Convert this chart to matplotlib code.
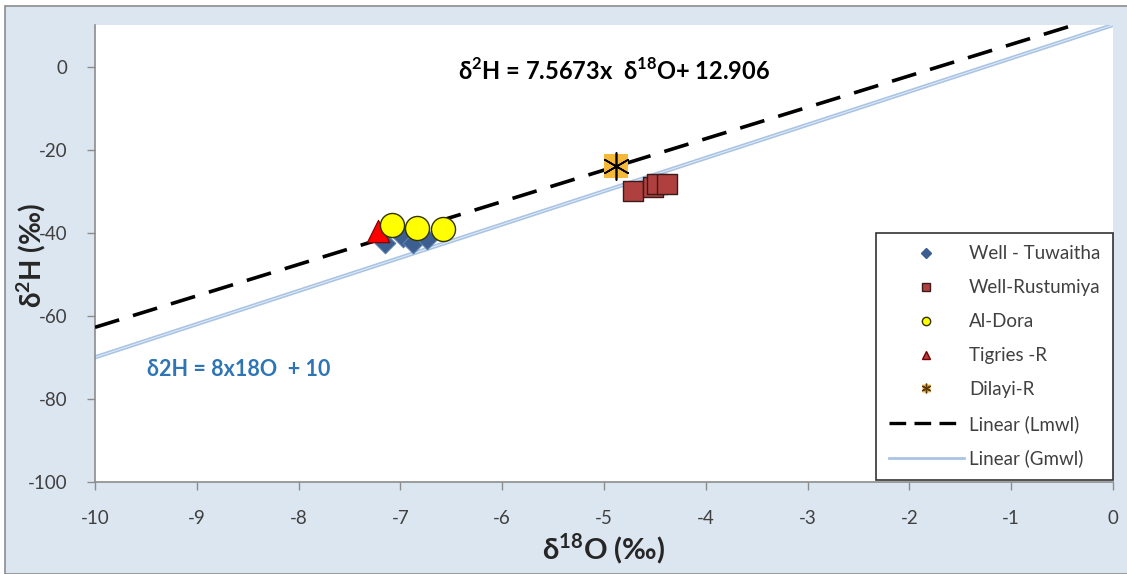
import matplotlib
matplotlib.use("Agg")
import matplotlib.pyplot as plt
import numpy as np
from matplotlib.lines import Line2D
from matplotlib.patches import Rectangle
from matplotlib.legend_handler import HandlerTuple

plt.rcParams['font.family'] = ['Lato', 'DejaVu Sans']
plt.rcParams['axes.unicode_minus'] = False
plt.rcParams['mathtext.fontset'] = 'custom'
plt.rcParams['mathtext.rm'] = 'Lato'
plt.rcParams['mathtext.bf'] = 'Lato:bold'

# Data
tuw_x = [-7.15, -6.97, -6.88, -6.74]
tuw_y = [-42.5, -41.0, -42.5, -41.5]
rus_x = [-4.72, -4.52, -4.48, -4.38]
rus_y = [-30.0, -29.0, -28.3, -28.2]
dora_x = [-7.08, -6.84, -6.58]
dora_y = [-38.2, -38.8, -39.0]
tig_x = [-7.22]
tig_y = [-39.5]
dil_x = [-4.88]
dil_y = [-24.0]
lmwl_slope, lmwl_int = 7.5673, 12.906
gmwl_slope, gmwl_int = 8.0, 10.0
xticks = [-10, -9, -8, -7, -6, -5, -4, -3, -2, -1, 0]
yticks = [-100, -80, -60, -40, -20, 0]

fig = plt.figure(figsize=(11.27, 5.74), dpi=100)
fig.patch.set_facecolor('white')
fig.patches.append(Rectangle((5/1127, 0), 1.0, 1 - 6/574, transform=fig.transFigure,
                             facecolor='#dce6f1', edgecolor='#8c8c8c', lw=1.2, zorder=-10))

ax = fig.add_axes([95/1127, 1 - 482/574, (1113 - 95)/1127, (482 - 25)/574])
ax.set_facecolor('white')
ax.set_xlim(-10, 0)
ax.set_ylim(-100, 10)
for s in ['top', 'right']:
    ax.spines[s].set_visible(False)
for s in ['left', 'bottom']:
    ax.spines[s].set_color('#8c8c8c')
    ax.spines[s].set_linewidth(1.2)
ax.set_xticks(xticks)
ax.set_yticks(yticks)
ax.tick_params(colors='#8c8c8c', labelcolor='#404040', labelsize=13.5, length=6, width=1)
ax.tick_params(axis='x', pad=14)
ax.tick_params(axis='y', pad=14)

xx = np.array([-10, 0])
ax.plot(xx, gmwl_slope * xx + gmwl_int, color='#a9c4e4', lw=3.0, zorder=2)
ax.plot(xx, gmwl_slope * xx + gmwl_int, color='#e3ecf7', lw=0.7, zorder=2)
ax.plot(xx, lmwl_slope * xx + lmwl_int, color='black', lw=2.6, dashes=(7, 4), zorder=3)

ax.scatter(tuw_x, tuw_y, marker='D', s=110, c='#3d5f8f', edgecolors='#5a7fb0', linewidths=0.8, zorder=4)
ax.scatter(rus_x, rus_y, marker='s', s=200, c='#b0403f', edgecolors='#3a1a1a', linewidths=1.0, zorder=4)
ax.scatter(tig_x, tig_y, marker='^', s=260, c='#ff0000', edgecolors='#7a0000', linewidths=0.8, zorder=5)
ax.scatter(dora_x, dora_y, marker='o', s=300, c='#ffff00', edgecolors='#333300', linewidths=1.0, zorder=5)
ax.scatter(dil_x, dil_y, marker='s', s=300, c='#f5b93a', edgecolors='none', zorder=5)
ax.scatter(dil_x, dil_y, marker=(6, 2, 0), s=380, c='black', linewidths=1.2, zorder=6)

fig.text(614/1127, 1 - 71/574, r'δ$^{\mathbf{2}}$H = 7.5673x  δ$^{\mathbf{18}}$O+ 12.906', ha='center', va='center',
         fontsize=17, fontweight='bold', color='black')
fig.text(147/1127, 1 - 370/574, 'δ2H = 8x18O  + 10', ha='left', va='center',
         fontsize=15.5, fontweight='bold', color='#2e75b6')

fig.text(604/1127, 1 - 549/574, r'δ$^{\mathbf{18}}$O (‰)', ha='center', va='center',
         fontsize=21, fontweight='bold', color='#262626')
fig.text(31/1127, 1 - 255/574, r'δ$^{\mathbf{2}}$H (‰)', ha='center', va='center', rotation=90,
         fontsize=20, fontweight='bold', color='#262626')

h_tuw = Line2D([], [], ls='none', marker='D', ms=5, mfc='#3d5f8f', mec='#3d5f8f')
h_rus = Line2D([], [], ls='none', marker='s', ms=6, mfc='#b0403f', mec='#3a1a1a')
h_dora = Line2D([], [], ls='none', marker='o', ms=6, mfc='#ffff00', mec='#333300')
h_tig = Line2D([], [], ls='none', marker='^', ms=6, mfc='#b0403f', mec='#7a0000')
h_dil1 = Line2D([], [], ls='none', marker='s', ms=6, mfc='#f5b93a', mec='none')
h_dil2 = Line2D([], [], ls='none', marker=(6, 2, 0), ms=7, color='#5a3a10')
h_l = Line2D([], [], color='black', lw=2.4, dashes=(5, 2.5))
h_g = Line2D([], [], color='#a9c4e4', lw=2)
leg = ax.legend([h_tuw, h_rus, h_dora, h_tig, (h_dil1, h_dil2), h_l, h_g],
                ['Well - Tuwaitha', 'Well-Rustumiya', 'Al-Dora', 'Tigries -R', 'Dilayi-R',
                 'Linear (Lmwl)', 'Linear (Gmwl)'],
                handler_map={tuple: HandlerTuple(ndivide=1, pad=0)},
                loc='lower right', bbox_to_anchor=(1.0, 0.005), borderaxespad=0,
                fontsize=13.5, frameon=True,
                fancybox=False, edgecolor='black', labelspacing=0.9, handlelength=4.0,
                borderpad=0.65, handletextpad=0.3, labelcolor='#404040')
leg.get_frame().set_linewidth(1.2)

fig.savefig('out.png', dpi=100, facecolor=fig.get_facecolor())
